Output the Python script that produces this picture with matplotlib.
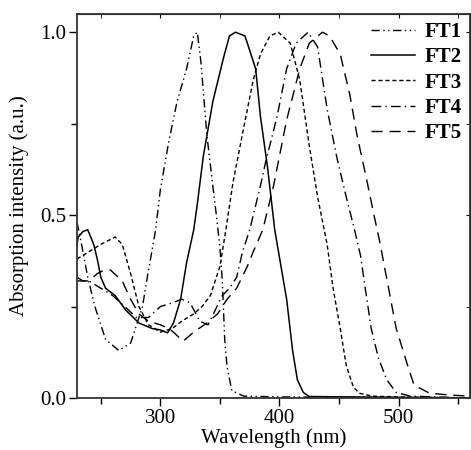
import numpy as np
import matplotlib
matplotlib.use('Agg')
from matplotlib import pyplot as plt

plt.rcParams['font.family'] = ['Liberation Serif', 'DejaVu Serif']

# values, wavelength (nm) / absorption (a.u.)
ft1_x = [230, 232, 235, 239, 245, 254, 265, 275, 279, 285, 289, 296, 300, 307, 314, 322, 328, 331,
         334, 339, 344, 347, 350, 352, 354, 356, 360, 370, 400, 560]
ft1_y = [0.48, 0.45, 0.40, 0.33, 0.25, 0.16, 0.13, 0.15, 0.19, 0.25, 0.33, 0.46, 0.57, 0.70, 0.81, 0.90, 0.99, 1.00,
         0.92, 0.72, 0.58, 0.50, 0.41, 0.32, 0.16, 0.085, 0.02, 0.005, 0.003, 0.0]

ft2_x = [229, 231, 235, 239, 244, 247, 250, 254, 262, 271, 282, 293, 300, 306, 311, 317, 322, 328, 331, 336,
         344, 353, 358, 363, 371, 375, 380, 384, 390, 396, 406, 411, 415, 420, 425, 560]
ft2_y = [0.40, 0.44, 0.455, 0.46, 0.42, 0.38, 0.33, 0.30, 0.28, 0.24, 0.205, 0.19, 0.186, 0.178, 0.205, 0.27, 0.37, 0.46, 0.53, 0.66,
         0.81, 0.93, 0.99, 1.00, 0.99, 0.95, 0.90, 0.77, 0.63, 0.46, 0.27, 0.13, 0.05, 0.015, 0.004, 0.0]

ft3_x = [230, 240, 250, 262, 268, 275, 282, 290, 300, 310, 318, 328, 335, 342, 350, 355, 361, 370, 378, 384,
         392, 399, 409, 417, 425, 432, 440, 445, 451, 456, 462, 467, 478, 500, 560]
ft3_y = [0.38, 0.40, 0.42, 0.44, 0.42, 0.34, 0.25, 0.20, 0.18, 0.19, 0.21, 0.23, 0.25, 0.28, 0.36, 0.46, 0.59, 0.74, 0.87, 0.94,
         0.99, 1.00, 0.97, 0.87, 0.69, 0.55, 0.42, 0.30, 0.19, 0.09, 0.03, 0.013, 0.005, 0.003, 0.0]

ft4_x = [230, 235, 240, 245, 250, 260, 270, 280, 290, 300, 310, 318, 325, 333, 340, 346, 352, 358, 364, 369, 375,
         384, 388, 398, 406, 414, 424, 432, 440, 448, 456, 463, 468, 472, 477, 483, 490, 498, 510, 560]
ft4_y = [0.33, 0.32, 0.32, 0.31, 0.30, 0.28, 0.25, 0.22, 0.22, 0.25, 0.26, 0.27, 0.26, 0.21, 0.20, 0.24, 0.28, 0.30, 0.33, 0.40, 0.46,
         0.58, 0.64, 0.77, 0.90, 0.97, 1.00, 0.96, 0.79, 0.66, 0.55, 0.46, 0.39, 0.30, 0.19, 0.11, 0.05, 0.015, 0.005, 0.0]

ft5_x = [230, 240, 247, 253, 258, 268, 275, 282, 290, 300, 307, 311, 319, 328, 339, 348, 356, 364, 373, 378, 386,
         395, 406, 417, 425, 436, 442, 451, 459, 465, 473, 480, 484, 491, 498, 507, 513, 526, 543, 560]
ft5_y = [0.32, 0.32, 0.34, 0.35, 0.35, 0.32, 0.27, 0.23, 0.21, 0.20, 0.19, 0.18, 0.155, 0.18, 0.205, 0.23, 0.27, 0.30, 0.36, 0.40, 0.46,
         0.58, 0.76, 0.90, 0.97, 1.00, 0.99, 0.94, 0.83, 0.72, 0.60, 0.49, 0.43, 0.31, 0.19, 0.095, 0.035, 0.013, 0.008, 0.005]

labels = ['FT1', 'FT2', 'FT3', 'FT4', 'FT5']

fig = plt.figure(figsize=(4.71, 4.5), dpi=100)
ax = fig.add_axes([0.1635, 0.1156, 0.8345, 0.8534])

ax.plot(ft1_x, ft1_y, color='k', lw=1.0, ls=(0, (6, 2.5, 1, 2.5, 1, 2.5)), label=labels[0])
ax.plot(ft2_x, ft2_y, color='k', lw=1.1, ls='-', label=labels[1])
ax.plot(ft3_x, ft3_y, color='k', lw=1.0, ls=(0, (3, 2)), label=labels[2])
ax.plot(ft4_x, ft4_y, color='k', lw=1.0, ls=(0, (7, 3, 1, 3)), label=labels[3])
ax.plot(ft5_x, ft5_y, color='k', lw=1.0, ls=(0, (8, 5)), label=labels[4])

ax.set_xlim(230, 560)
ax.set_ylim(0, 1.05)
ax.set_xticks([300, 400, 500])
ax.set_xticks([250, 350, 450, 550], minor=True)
ax.set_yticks([0.0, 0.5, 1.0])
ax.set_yticklabels(['0.0', '0.5', '1.0'])
ax.set_yticks([0.25, 0.75], minor=True)
ax.tick_params(which='major', direction='out', length=6, width=1, labelsize=15, pad=2)
ax.tick_params(which='minor', direction='out', length=4, width=1)
for s in ax.spines.values():
    s.set_linewidth(1.3)
    s.set_color('#333333')

# ticks on top and right pointing inwards
top = ax.secondary_xaxis('top')
top.set_xticks([300, 400, 500])
top.set_xticks([250, 350, 450, 550], minor=True)
top.tick_params(which='both', direction='in', length=3, labeltop=False)
right = ax.secondary_yaxis('right')
right.set_yticks([0.0, 0.5, 1.0])
right.set_yticks([0.25, 0.75], minor=True)
right.tick_params(which='both', direction='in', length=3, labelright=False)

ax.set_xlabel('Wavelength (nm)', fontsize=15, labelpad=0)
ax.set_ylabel('Absorption intensity (a.u.)', fontsize=15, labelpad=8)

leg = ax.legend(loc='upper right', frameon=False, handlelength=2.1, handletextpad=0.45,
                labelspacing=0.25, borderaxespad=0.0, borderpad=0.4,
                prop={'weight': 'bold', 'size': 15})

fig.savefig('out.png', dpi=100)
